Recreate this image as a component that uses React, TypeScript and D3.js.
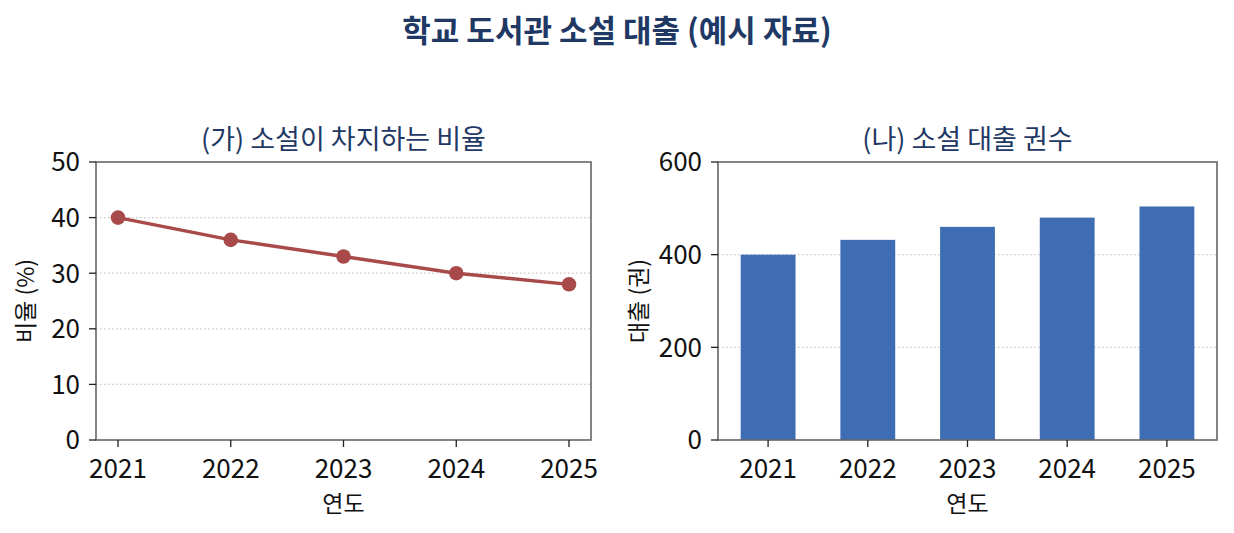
import * as d3 from "d3";

// ── Data ──────────────────────────────────────────────────────────────────────

const years = ["2021", "2022", "2023", "2024", "2025"];
const novelShare = [40, 36, 33, 30, 28]; // %
const novelLoans = [400, 432, 460, 480, 504]; // 권

const shareTicks = [0, 10, 20, 30, 40, 50];
const loanTicks = [0, 200, 400, 600];

// ── Style ─────────────────────────────────────────────────────────────────────

const FONT = "'Noto Sans CJK KR', 'Noto Sans', sans-serif";
const NAVY = "#1f3864";
const LINE_COLOR = "#a94a4a";
const BAR_COLOR = "#3f6db3";
const FRAME = "#666666";
const GRID = "#c8c8c8";

const W = 1234;
const H = 533;

const TICK_FS = 26;
const LABEL_FS = 23;
const SUB_FS = 27;

const left = { x0: 96, x1: 591, y0: 162, y1: 440 };
const right = { x0: 718, x1: 1217, y0: 162, y1: 440 };

function Frame({ box }: { box: typeof left }) {
  return (
    <rect
      x={box.x0}
      y={box.y0}
      width={box.x1 - box.x0}
      height={box.y1 - box.y0}
      fill="none"
      stroke={FRAME}
      strokeWidth={1.6}
    />
  );
}

function LineChart() {
  const x = d3.scaleLinear().domain([-0.195, 4.195]).range([left.x0, left.x1]);
  const y = d3.scaleLinear().domain([0, 50]).range([left.y1, left.y0]);
  const line = d3
    .line<number>()
    .x((_d, i) => x(i))
    .y((d) => y(d));

  return (
    <g>
      {shareTicks
        .filter((t) => t > 0 && t < 50)
        .map((t) => (
          <line
            key={t}
            x1={left.x0}
            x2={left.x1}
            y1={y(t)}
            y2={y(t)}
            stroke={GRID}
            strokeWidth={1.2}
            strokeDasharray="1.5,2.5"
          />
        ))}
      <path d={line(novelShare) ?? ""} fill="none" stroke={LINE_COLOR} strokeWidth={3.4} />
      {novelShare.map((v, i) => (
        <circle key={i} cx={x(i)} cy={y(v)} r={7.3} fill={LINE_COLOR} />
      ))}
      <Frame box={left} />
      {shareTicks.map((t) => (
        <g key={t}>
          <line x1={left.x0 - 7} x2={left.x0} y1={y(t)} y2={y(t)} stroke="#222" strokeWidth={1.3} />
          <text x={left.x0 - 16} y={y(t)} dy="0.36em" textAnchor="end" fontSize={TICK_FS} fill="#111">
            {t}
          </text>
        </g>
      ))}
      {years.map((yr, i) => (
        <g key={yr}>
          <line x1={x(i)} x2={x(i)} y1={left.y1} y2={left.y1 + 7} stroke="#222" strokeWidth={1.3} />
          <text x={x(i)} y={left.y1 + 38} textAnchor="middle" fontSize={TICK_FS} fill="#111">
            {yr}
          </text>
        </g>
      ))}
      <text x={(left.x0 + left.x1) / 2} y={512} textAnchor="middle" fontSize={LABEL_FS} fill="#111">
        연도
      </text>
      <text
        transform={`translate(34, ${(left.y0 + left.y1) / 2}) rotate(-90)`}
        textAnchor="middle"
        fontSize={LABEL_FS}
        fill="#111"
      >
        비율 (%)
      </text>
      <text x={(left.x0 + left.x1) / 2} y={149} textAnchor="middle" fontSize={SUB_FS} fill={NAVY}>
        (가) 소설이 차지하는 비율
      </text>
    </g>
  );
}

function BarChart() {
  const x = d3.scaleLinear().domain([-0.5025, 4.5025]).range([right.x0, right.x1]);
  const y = d3.scaleLinear().domain([0, 600]).range([right.y1, right.y0]);
  const bw = x(0.275) - x(-0.275);

  return (
    <g>
      {loanTicks
        .filter((t) => t > 0 && t < 600)
        .map((t) => (
          <line
            key={t}
            x1={right.x0}
            x2={right.x1}
            y1={y(t)}
            y2={y(t)}
            stroke={GRID}
            strokeWidth={1.2}
            strokeDasharray="1.5,2.5"
          />
        ))}
      {novelLoans.map((v, i) => (
        <rect
          key={i}
          x={x(i) - bw / 2}
          y={y(v)}
          width={bw}
          height={y(0) - y(v)}
          fill={BAR_COLOR}
        />
      ))}
      <Frame box={right} />
      {loanTicks.map((t) => (
        <g key={t}>
          <line x1={right.x0 - 7} x2={right.x0} y1={y(t)} y2={y(t)} stroke="#222" strokeWidth={1.3} />
          <text x={right.x0 - 16} y={y(t)} dy="0.36em" textAnchor="end" fontSize={TICK_FS} fill="#111">
            {t}
          </text>
        </g>
      ))}
      {years.map((yr, i) => (
        <g key={yr}>
          <line x1={x(i)} x2={x(i)} y1={right.y1} y2={right.y1 + 7} stroke="#222" strokeWidth={1.3} />
          <text x={x(i)} y={right.y1 + 38} textAnchor="middle" fontSize={TICK_FS} fill="#111">
            {yr}
          </text>
        </g>
      ))}
      <text x={(right.x0 + right.x1) / 2} y={512} textAnchor="middle" fontSize={LABEL_FS} fill="#111">
        연도
      </text>
      <text
        transform={`translate(647, ${(right.y0 + right.y1) / 2}) rotate(-90)`}
        textAnchor="middle"
        fontSize={LABEL_FS}
        fill="#111"
      >
        대출 (권)
      </text>
      <text x={(right.x0 + right.x1) / 2} y={149} textAnchor="middle" fontSize={SUB_FS} fill={NAVY}>
        (나) 소설 대출 권수
      </text>
    </g>
  );
}

export default function App() {
  return (
    <svg
      width={W}
      height={H}
      style={{ position: "absolute", left: 0, top: 0, background: "#fff" }}
      fontFamily={FONT}
    >
      <rect width={W} height={H} fill="#fff" />
      <text x={617} y={42} textAnchor="middle" fontSize={31} fontWeight={700} fill={NAVY}>
        학교 도서관 소설 대출 (예시 자료)
      </text>
      <LineChart />
      <BarChart />
    </svg>
  );
}
